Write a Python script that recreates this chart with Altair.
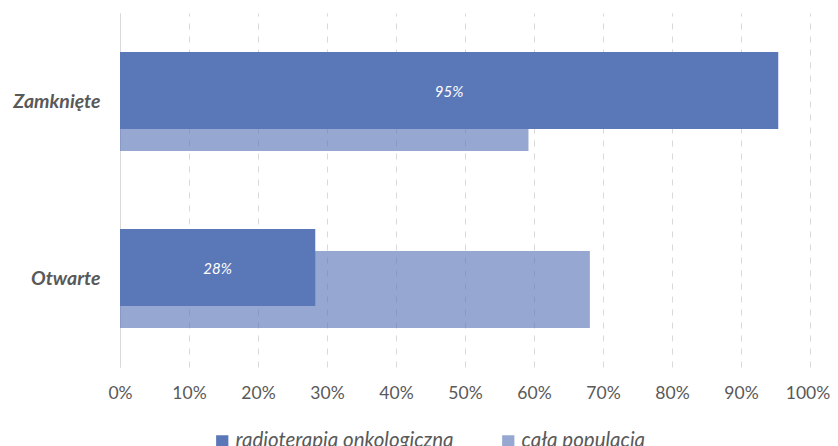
import altair as alt
import pandas as pd

categories = ["Zamknięte", "Otwarte"]
series = ["radioterapia onkologiczna", "cała populacja"]
radioterapia = [0.954, 0.283]
cala_populacja = [0.592, 0.681]
grid_values = [i / 100 for i in range(0, 101, 5)]

DARK = "#5a77b8"
LIGHT = "rgba(90,119,184,0.64)"
FONT = "Lato"
GRAY = "#595959"

df_dark = pd.DataFrame({"kategoria": categories, "seria": series[0], "wartosc": radioterapia})
df_light = pd.DataFrame({"kategoria": categories, "seria": series[1], "wartosc": cala_populacja})

color = alt.Color(
    "seria:N",
    scale=alt.Scale(domain=series, range=[DARK, LIGHT]),
    legend=alt.Legend(
        title=None,
        orient="none",
        direction="horizontal",
        legendX=92,
        legendY=418,
        symbolType="square",
        symbolSize=150,
        symbolStrokeWidth=0,
        labelFont=FONT,
        labelFontStyle="italic",
        labelFontSize=20.5,
        labelColor=GRAY,
        labelOffset=3,
        columnPadding=44,
        labelLimit=400,
    ),
)

y = alt.Y(
    "kategoria:N",
    sort=categories,
    title=None,
    scale=alt.Scale(paddingInner=0, paddingOuter=0),
    axis=alt.Axis(
        labelFont=FONT,
        labelFontStyle="italic",
        labelFontWeight="bold",
        labelFontSize=19.5,
        labelColor=GRAY,
        labelPadding=20,
        ticks=False,
        tickSize=0,
        domain=True,
        domainColor="#d9d9d9",
        domainWidth=1,
        grid=False,
    ),
)

x = alt.X(
    "wartosc:Q",
    title=None,
    scale=alt.Scale(domain=[0, 1], nice=False),
    axis=alt.Axis(
        values=grid_values,
        labelExpr="round(datum.value*100) % 10 == 0 ? format(datum.value, '.0%') : ''",
        labelFont=FONT,
        labelFontSize=17.5,
        labelColor=GRAY,
        labelPadding=17,
        labelOffset={"condition": {"test": "datum.value >= 1", "value": -2.5}, "value": 0},
        labelFlush=False,
        labelOverlap=False,
        ticks=False,
        tickSize=0,
        domain=False,
        grid=True,
        gridColor="#d9d9d9",
        gridDash=[6, 7],
        gridWidth=1,
    ),
)

light_bars = alt.Chart(df_light).mark_bar(size=77, yOffset=11).encode(x=x, y=y, color=color)
dark_bars = alt.Chart(df_dark).mark_bar(size=77, yOffset=-11).encode(x=x, y=y, color=color)
labels = (
    alt.Chart(df_dark)
    .transform_calculate(srodek="datum.wartosc / 2")
    .mark_text(
        yOffset=-10,
        color="white",
        font=FONT,
        fontStyle="italic",
        fontSize=15,
        align="center",
        baseline="middle",
    )
    .encode(
        x=alt.X("srodek:Q"),
        y=alt.Y("kategoria:N", sort=categories),
        text=alt.Text("wartosc:Q", format=".0%"),
    )
)

chart = (
    alt.layer(light_bars, dark_bars, labels)
    .properties(
        width=690,
        height=354,
        autosize=alt.AutoSizeParams(type="none"),
        padding={"left": 112, "top": 5, "right": 20, "bottom": 80},
    )
    .configure_view(stroke=None)
)

chart.save("out.html", embed_options={"renderer": "svg", "actions": False})
